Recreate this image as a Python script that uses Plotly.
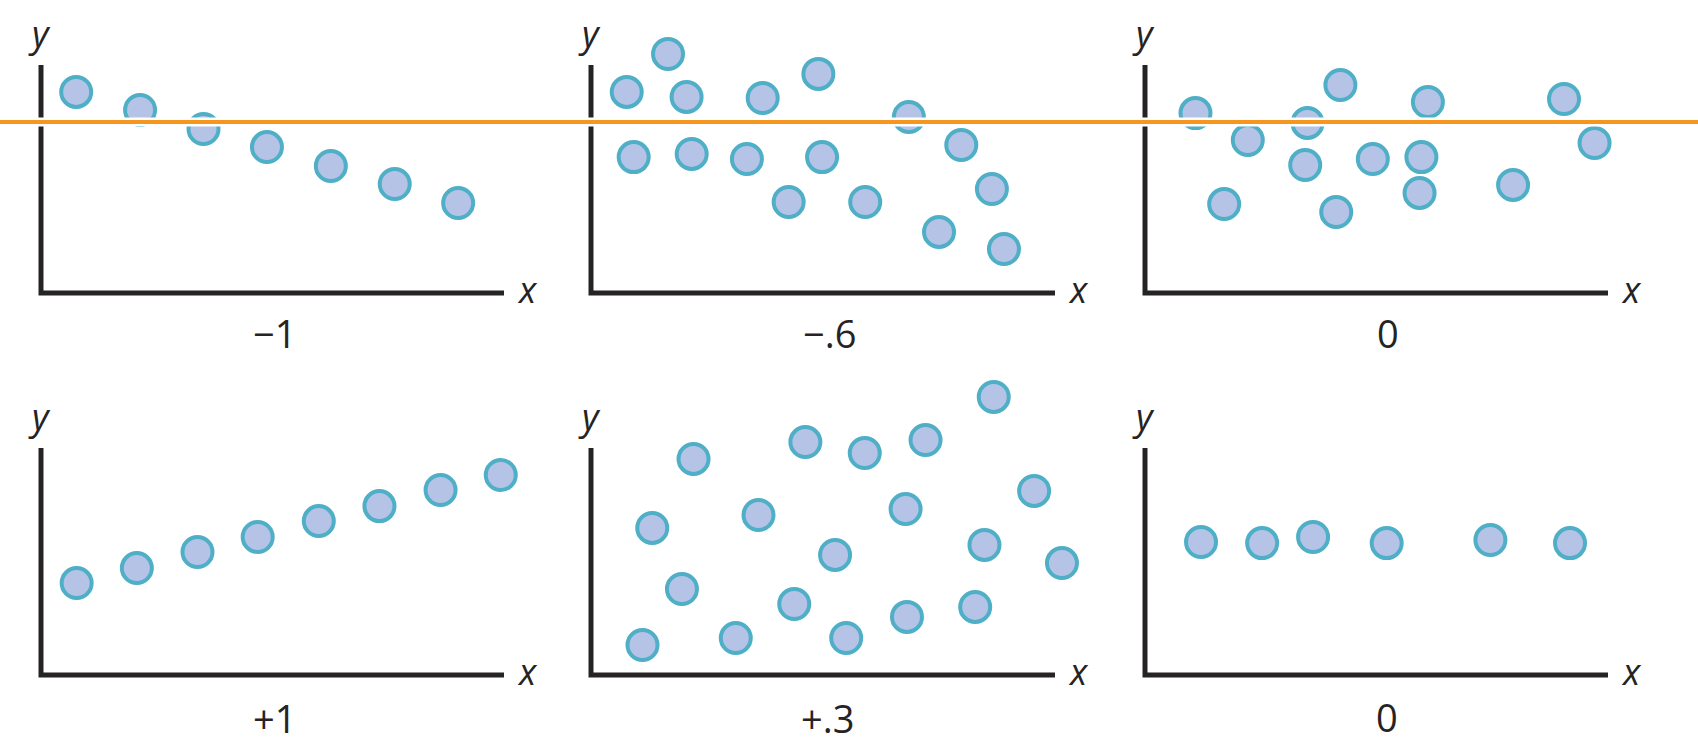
import plotly.graph_objects as go

W, H = 1698, 752

# ---- data (relative units 0-100 within each panel's axes) ----
labels = ["\u22121", "\u2212.6", "0", "+1", "+.3", "0"]

p1_x = [7.6, 21.4, 35.1, 48.8, 62.6, 76.4, 90.1]
p1_y = [88.2, 80.3, 71.9, 64.0, 55.7, 47.8, 39.5]

p2_x = [16.6, 7.7, 20.6, 37.0, 49.0, 68.5, 79.8, 9.2, 21.7, 33.6, 49.8, 42.6, 59.1, 86.4, 75.0, 89.0]
p2_y = [104.8, 88.2, 86.0, 85.5, 96.1, 77.2, 64.9, 59.6, 61.0, 58.8, 59.6, 39.9, 39.9, 45.6, 26.8, 19.3]

p3_x = [10.9, 22.2, 35.1, 42.2, 61.1, 90.5, 97.1, 34.6, 49.2, 59.7, 17.1, 41.3, 59.3, 79.5]
p3_y = [78.9, 67.1, 74.6, 91.2, 83.8, 85.1, 65.8, 56.1, 58.8, 59.6, 39.0, 35.5, 43.9, 47.4]

p4_x = [7.7, 20.7, 33.8, 46.8, 60.0, 73.1, 86.3, 99.3]
p4_y = [40.5, 47.1, 54.2, 60.8, 67.8, 74.4, 81.5, 88.1]

p5_x = [86.8, 22.1, 46.2, 59.0, 72.1, 95.5, 13.2, 36.1, 67.8, 52.6, 84.8, 101.5,
        19.6, 43.8, 82.8, 68.1, 11.1, 31.2, 55.0]
p5_y = [122.5, 95.2, 102.6, 97.8, 103.5, 81.1, 64.8, 70.5, 73.1, 52.9, 57.3, 49.3,
        37.9, 31.3, 30.0, 25.6, 13.2, 16.3, 16.3]

p6_x = [12.1, 25.3, 36.3, 52.2, 74.6, 91.8]
p6_y = [58.6, 58.1, 60.8, 58.1, 59.5, 58.1]

series = [(p1_x, p1_y), (p2_x, p2_y), (p3_x, p3_y),
          (p4_x, p4_y), (p5_x, p5_y), (p6_x, p6_y)]

# ---- layout geometry (pixels) ----
cols = [(41, 504), (591, 1055), (1145, 1608)]
rows = [(65, 293), (448, 675)]
label_dx = [2, 6.5, 11, 1.5, 4, 10.5]
label_dy = [40, 40, 40, 43, 43, 42]
XR = (-8, 112)   # axis range (units) covered by the subplot domain
YR = (-8, 127)

FILL = "#B5C3E6"
EDGE = "#4FAFC7"
INK = "#262324"
FONT = "Open Sans"

fig = go.Figure()
layout = dict(width=W, height=H, margin=dict(l=0, r=0, t=0, b=0),
              paper_bgcolor="white", plot_bgcolor="white", showlegend=False)

annotations = []
shapes = []
for i, (xs, ys) in enumerate(series):
    r, c = divmod(i, 3)
    x0, x1 = cols[c]
    yt, yb = rows[r]
    w, h = x1 - x0, yb - yt
    n = "" if i == 0 else str(i + 1)
    fig.add_trace(go.Scatter(
        x=xs, y=ys, mode="markers", cliponaxis=False,
        xaxis="x" + n, yaxis="y" + n,
        marker=dict(size=30, color=FILL, line=dict(color=EDGE, width=4)),
        hoverinfo="skip"))
    dl = x0 + XR[0] / 100 * w
    dr = x0 + XR[1] / 100 * w
    db = yb - YR[0] / 100 * h
    dt = yb - YR[1] / 100 * h
    common = dict(showline=False, showgrid=False, zeroline=False,
                  showticklabels=False, ticks="", fixedrange=True)
    layout["xaxis" + n] = dict(domain=[dl / W, dr / W], range=list(XR),
                               anchor="y" + n, **common)
    layout["yaxis" + n] = dict(domain=[1 - db / H, 1 - dt / H], range=list(YR),
                               anchor="x" + n, **common)
    # L-shaped axes
    shapes.append(dict(type="path", xref="x" + n, yref="y" + n,
                       path="M 0,100 L 0,0 L 100,0",
                       line=dict(color=INK, width=5), layer="below"))
    # axis name labels
    annotations.append(dict(text="<i>y</i>", xref="paper", yref="paper",
                            x=(x0 - 2) / W, y=1 - (yt - 32) / H,
                            xanchor="center", yanchor="middle", showarrow=False,
                            font=dict(family=FONT, size=36, color=INK)))
    annotations.append(dict(text="<i>x</i>", xref="paper", yref="paper",
                            x=(x1 + 23) / W, y=1 - (yb - 4) / H,
                            xanchor="center", yanchor="middle", showarrow=False,
                            font=dict(family=FONT, size=36, color=INK)))
    # correlation label
    annotations.append(dict(text=labels[i], xref="paper", yref="paper",
                            x=((x0 + x1) / 2 + label_dx[i]) / W,
                            y=1 - (yb + label_dy[i]) / H,
                            xanchor="center", yanchor="middle", showarrow=False,
                            font=dict(family=FONT, size=38, color=INK)))

yline = 1 - 122 / H
shapes.append(dict(type="line", xref="paper", yref="paper", x0=0, x1=1,
                   y0=yline, y1=yline, line=dict(color="white", width=9),
                   layer="above"))
shapes.append(dict(type="line", xref="paper", yref="paper", x0=0, x1=1,
                   y0=yline, y1=yline, line=dict(color="#F7961E", width=4),
                   layer="above"))

layout["annotations"] = annotations
layout["shapes"] = shapes
fig.update_layout(**layout)
fig.write_html("out.html", config={"displayModeBar": False},
               post_script="document.body.style.margin='0';")
